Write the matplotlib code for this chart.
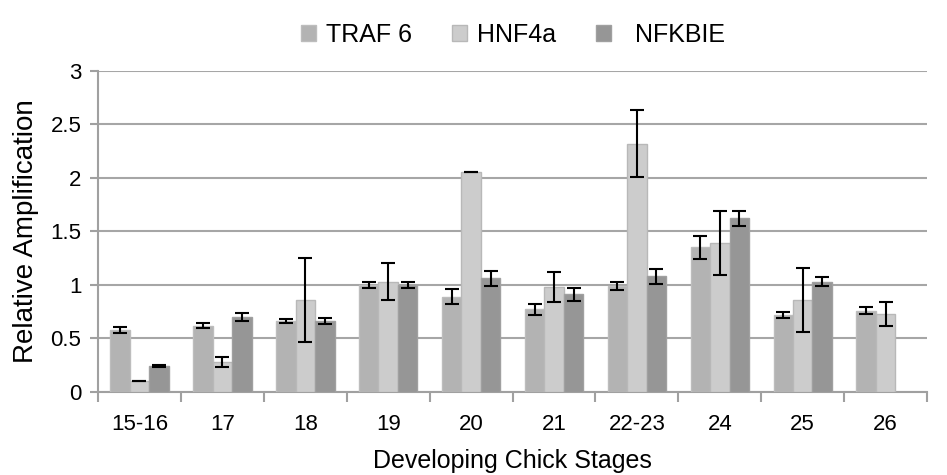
import numpy as np
import matplotlib
matplotlib.use('Agg')
import matplotlib.pyplot as plt

plt.rcParams['font.family'] = ['Liberation Sans', 'DejaVu Sans']

stages = ['15-16', '17', '18', '19', '20', '21', '22-23', '24', '25', '26']
traf6 = [0.58, 0.62, 0.66, 1.00, 0.89, 0.77, 0.99, 1.35, 0.72, 0.76]
traf6_err = [0.03, 0.02, 0.02, 0.03, 0.07, 0.05, 0.04, 0.11, 0.03, 0.03]
hnf4a = [0.10, 0.28, 0.86, 1.03, 2.05, 0.98, 2.32, 1.39, 0.86, 0.73]
hnf4a_err = [0.0, 0.05, 0.39, 0.17, 0.0, 0.14, 0.31, 0.30, 0.30, 0.11]
nfkbie = [0.24, 0.70, 0.66, 1.00, 1.06, 0.91, 1.08, 1.62, 1.03, 0]
nfkbie_err = [0.01, 0.04, 0.03, 0.03, 0.07, 0.06, 0.07, 0.07, 0.045, 0]

fig = plt.figure(figsize=(9.47, 4.75), dpi=100)
ax = fig.add_axes([0.1035, 0.175, 0.8755, 0.676])

x = np.arange(len(stages))
w = 0.235
ekw = dict(ecolor='black', elinewidth=1.5, capsize=5, capthick=1.5)
ax.bar(x - w, traf6, w, yerr=traf6_err, color='#b3b3b3', edgecolor='#bdbdbd',
       linewidth=1, label='TRAF 6', error_kw=ekw, zorder=3)
ax.bar(x, hnf4a, w, yerr=hnf4a_err, color='#cccccc', edgecolor='#b8b8b8',
       linewidth=1, label='HNF4a', error_kw=ekw, zorder=3)
n = len(stages) - 1
ax.bar(x[:n] + w, nfkbie[:n], w, yerr=nfkbie_err[:n], color='#969696', edgecolor='#a0a0a0',
       linewidth=1, label='  NFKBIE', error_kw=ekw, zorder=3)

ax.set_xlim(-0.5, len(stages) - 0.5)
ax.set_ylim(0, 3)
ax.set_yticks(np.arange(0, 3.01, 0.5))
ax.set_yticklabels(['0', '0.5', '1', '1.5', '2', '2.5', '3'])
ax.set_xticks(x)
ax.set_xticklabels(stages)
ax.set_xticks(np.arange(-0.5, len(stages), 1), minor=True)
ax.tick_params(axis='x', which='major', length=0, labelsize=16, pad=16)
ax.tick_params(axis='x', which='minor', length=7, width=1.5, color='#a0a0a0')
ax.tick_params(axis='y', length=6, width=1.5, color='#a0a0a0', labelsize=16, pad=6)

ax.grid(axis='y', color='#a6a6a6', linewidth=1.5, zorder=0)
ax.set_axisbelow(True)
for s in ['top', 'right']:
    ax.spines[s].set_visible(False)
for s in ['left', 'bottom']:
    ax.spines[s].set_color('#a0a0a0')
    ax.spines[s].set_linewidth(1.5)

ax.set_xlabel('Developing Chick Stages', fontsize=18, labelpad=10)
ax.set_ylabel('Relative Amplification', fontsize=20, labelpad=8)

ax.legend(loc='lower center', bbox_to_anchor=(0.5, 1.02), ncol=3, frameon=False,
          fontsize=18, handlelength=0.6, handleheight=0.6, handletextpad=0.4,
          columnspacing=1.6, borderaxespad=0.3)

plt.savefig('out.png', dpi=100)
